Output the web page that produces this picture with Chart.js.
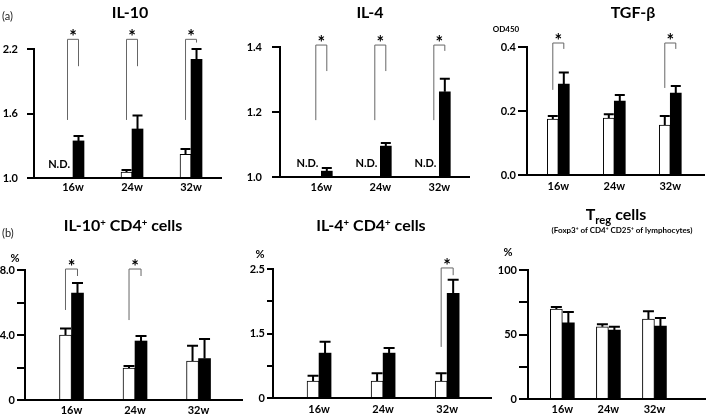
<!DOCTYPE html>
<html><head><meta charset="utf-8">
<script src="https://cdn.jsdelivr.net/npm/chart.js@4.4.1/dist/chart.umd.min.js"></script>
<style>
html,body{margin:0;padding:0;width:708px;height:417px;overflow:hidden;background:#fff;font-family:Lato,'Open Sans',sans-serif;}
.t{position:absolute;white-space:nowrap;font-weight:bold;color:#000;transform:translate(-50%,-50%);line-height:1;}
.l{position:absolute;white-space:nowrap;color:#222;line-height:1;transform:translateY(-50%);}
sup{font-size:0.6em;vertical-align:0.55em;line-height:0;}
sub{font-size:0.7em;vertical-align:-0.35em;line-height:0;}
</style></head><body>
<div class="l" style="left:2px;top:15px;font-size:11px">(a)</div>
<div class="t" style="left:130px;top:12px;font-size:16px">IL-10</div>
<div class="t" style="left:370px;top:12px;font-size:16px">IL-4</div>
<div class="t" style="left:633px;top:12px;font-size:16px">TGF-β</div>
<div class="t" style="left:506px;top:29px;font-size:8px">OD450</div>
<div class="l" style="left:2px;top:232px;font-size:11px">(b)</div>
<div class="t" style="left:123px;top:225px;font-size:16px">IL-10<sup>+</sup> CD4<sup>+</sup> cells</div>
<div class="t" style="left:371px;top:225px;font-size:16px">IL-4<sup>+</sup> CD4<sup>+</sup> cells</div>
<div class="t" style="left:616px;top:214px;font-size:16px">T<sub>reg</sub> cells</div>
<div class="t" style="left:622px;top:230px;font-size:8px">(Foxp3<sup>+</sup> of CD4<sup>+</sup> CD25<sup>+</sup> of lymphocytes)</div>
<div class="t" style="left:15px;top:257px;font-size:11px">%</div>
<div class="t" style="left:260px;top:253px;font-size:11px">%</div>
<div class="t" style="left:508px;top:251px;font-size:11px">%</div>
<script>
const weeks = ['16w', '24w', '32w'];

// (a) IL-10 (OD450); null = N.D.
const il10Control = [null, 1.055, 1.22];
const il10ControlErr = [null, 0.02, 0.05];
const il10Treated = [1.345, 1.456, 2.105];
const il10TreatedErr = [0.045, 0.125, 0.095];
const il10Ticks = [1.0, 1.6, 2.2];
const il10TickLabels = ['1.0', '1.6', '2.2'];
const il10SigTop = [2.29, 2.29, 2.29];
const il10SigLeft = [1.54, 1.54, 1.54];
const il10SigRight = [2.04, 2.04, 2.26];

// (a) IL-4
const il4Control = [null, null, null];
const il4ControlErr = [null, null, null];
const il4Treated = [1.018, 1.095, 1.262];
const il4TreatedErr = [0.01, 0.01, 0.04];
const il4Ticks = [1.0, 1.2, 1.4];
const il4TickLabels = ['1.0', '1.2', '1.4'];
const il4SigTop = [1.406, 1.406, 1.406];
const il4SigLeft = [1.175, 1.175, 1.175];
const il4SigRight = [1.326, 1.326, 1.388];

// (a) TGF-beta
const tgfControl = [0.175, 0.178, 0.156];
const tgfControlErr = [0.009, 0.012, 0.028];
const tgfTreated = [0.284, 0.231, 0.256];
const tgfTreatedErr = [0.036, 0.019, 0.022];
const tgfTicks = [0.0, 0.2, 0.4];
const tgfTickLabels = ['0.0', '0.2', '0.4'];
const tgfSigTop = [0.4125, null, 0.4125];
const tgfSigLeft = [0.266, null, 0.272];
const tgfSigRight = [0.394, null, 0.394];

// (b) IL-10+ CD4+ cells (%)
const il10cControl = [4.0, 1.97, 2.4];
const il10cControlErr = [0.4, 0.12, 0.94];
const il10cTreated = [6.58, 3.63, 2.55];
const il10cTreatedErr = [0.62, 0.31, 1.2];
const il10cTicks = [0, 2, 4, 6, 8];
const il10cTickLabels = ['0', '', '4.0', '', '8.0'];
const il10cSigTop = [8.06, 8.06, null];
const il10cSigLeft = [5.54, 4.92, null];
const il10cSigRight = [7.63, 7.63, null];

// (b) IL-4+ CD4+ cells (%)
const il4cControl = [0.33, 0.33, 0.33];
const il4cControlErr = [0.1, 0.15, 0.15];
const il4cTreated = [0.87, 0.87, 2.03];
const il4cTreatedErr = [0.22, 0.1, 0.26];
const il4cTicks = [0, 0.625, 1.25, 1.875, 2.5];
const il4cTickLabels = ['0', '', '1.5', '', '2.5'];
const il4cSigTop = [null, null, 2.52];
const il4cSigLeft = [null, null, 0.99];
const il4cSigRight = [null, null, 2.38];

// (b) Treg cells (%)
const tregControl = [69.8, 56, 62];
const tregControlErr = [1.5, 2, 6];
const tregTreated = [59, 53.5, 56.6];
const tregTreatedErr = [8.5, 2.5, 6.2];
const tregTicks = [0, 25, 50, 75, 100];
const tregTickLabels = ['0', '', '50', '', '100'];
const tregSigTop = [null, null, null];
const tregSigLeft = [null, null, null];
const tregSigRight = [null, null, null];

function overlay(p) {
  return {
    id: 'overlay',
    afterDatasetsDraw(chart) {
      const ctx = chart.ctx, ys = chart.scales.y;
      const m0 = chart.getDatasetMeta(0), m1 = chart.getDatasetMeta(1);
      ctx.save();
      // error bars (upper whisker)
      [[m0, p.ctrl, p.ctrlErr], [m1, p.trt, p.trtErr]].forEach(([m, vals, errs]) => {
        vals.forEach((v, i) => {
          if (v == null || errs[i] == null) return;
          const b = m.data[i];
          const y0 = ys.getPixelForValue(v), y1 = ys.getPixelForValue(v + errs[i]);
          const hw = b.width / 2 - 0.5;
          ctx.strokeStyle = '#000'; ctx.lineWidth = 2;
          ctx.beginPath();
          ctx.moveTo(b.x, y0); ctx.lineTo(b.x, y1);
          ctx.moveTo(b.x - hw, y1); ctx.lineTo(b.x + hw, y1);
          ctx.stroke();
        });
      });
      // N.D. labels
      p.ctrl.forEach((v, i) => {
        if (v != null) return;
        const b = m1.data[i];
        ctx.font = 'bold 11px Lato, sans-serif';
        ctx.textAlign = 'right'; ctx.textBaseline = 'middle'; ctx.fillStyle = '#000';
        ctx.fillText('N.D.', b.x - b.width / 2 - 3, ys.getPixelForValue(p.ticks[0]) - 14);
      });
      // significance brackets
      p.sigTop.forEach((tv, i) => {
        if (tv == null) return;
        const xl = m0.data[i].x, xr = m1.data[i].x;
        const yt = ys.getPixelForValue(tv);
        ctx.strokeStyle = '#666'; ctx.lineWidth = 1;
        ctx.beginPath();
        ctx.moveTo(xl, ys.getPixelForValue(p.sigLeft[i]));
        ctx.lineTo(xl, yt); ctx.lineTo(xr, yt);
        ctx.lineTo(xr, ys.getPixelForValue(p.sigRight[i]));
        ctx.stroke();
        ctx.font = 'bold 18px Lato, sans-serif';
        ctx.textAlign = 'center'; ctx.textBaseline = 'alphabetic'; ctx.fillStyle = '#000';
        ctx.fillText('*', (xl + xr) / 2, yt + 4);
      });
      ctx.restore();
    }
  };
}

function makeChart(p) {
  const c = document.createElement('canvas');
  c.width = p.box.w; c.height = p.box.h;
  c.style.cssText = `position:absolute;left:${p.box.l}px;top:${p.box.t}px;width:${p.box.w}px;height:${p.box.h}px;`;
  document.body.insertBefore(c, document.body.firstChild);
  const yMin = p.ticks[0], yMax = p.ticks[p.ticks.length - 1];
  new Chart(c, {
    type: 'bar',
    data: {
      datasets: [
        { data: p.ctrl.map((v, i) => ({ x: i, y: v })), backgroundColor: '#fff', borderColor: '#000', borderWidth: 1, base: yMin, barThickness: p.bw },
        { data: p.trt.map((v, i) => ({ x: i, y: v })), backgroundColor: '#000', borderWidth: 0, base: yMin, barThickness: p.bw }
      ]
    },
    options: {
      responsive: false, animation: false, events: [],
      layout: { padding: { top: p.padTop, left: 0, right: 0, bottom: 0 } },
      plugins: { legend: { display: false }, tooltip: { enabled: false } },
      scales: {
        x: {
          type: 'linear', min: p.xMin, max: p.xMax, offset: false,
          grid: { display: false, drawTicks: false, offset: false },
          border: { display: true, color: '#000', width: 2 },
          afterBuildTicks: s => { s.ticks = p.cats.map((c, i) => ({ value: i })); },
          ticks: { callback: v => p.cats[v], font: { family: 'Lato', size: 11, weight: 'bold' }, color: '#000', padding: p.xPad, maxRotation: 0, autoSkip: false },
          afterFit: s => { s.height = 24; }
        },
        y: {
          min: yMin, max: yMax,
          grid: { drawOnChartArea: false, drawTicks: true, tickLength: p.tickLen, color: '#000', lineWidth: 2 },
          border: { display: true, color: '#000', width: 2 },
          afterBuildTicks: s => { s.ticks = p.ticks.map(v => ({ value: v })); },
          ticks: { callback: (v, i) => p.tickLabels[i], padding: p.tickPad, font: { family: 'Lato', size: 11, weight: 'bold' }, color: '#000', autoSkip: false },
          afterFit: s => { s.width = 40; }
        }
      }
    },
    plugins: [overlay(p)]
  });
}

const panels = [
  { cats: weeks, ctrl: il10Control, ctrlErr: il10ControlErr, trt: il10Treated, trtErr: il10TreatedErr, ticks: il10Ticks, tickLabels: il10TickLabels,
    sigTop: il10SigTop, sigLeft: il10SigLeft, sigRight: il10SigRight,
    box: { l: -6, t: 0, w: 228, h: 202 }, padTop: 49, xMin: -0.661, xMax: 2.525, bw: 11, tickLen: 7, tickPad: 9, xPad: 3 },
  { cats: weeks, ctrl: il4Control, ctrlErr: il4ControlErr, trt: il4Treated, trtErr: il4TreatedErr, ticks: il4Ticks, tickLabels: il4TickLabels,
    sigTop: il4SigTop, sigLeft: il4SigLeft, sigRight: il4SigRight,
    box: { l: 240, t: 0, w: 230, h: 201 }, padTop: 47, xMin: -0.70, xMax: 2.52, bw: 11, tickLen: 8, tickPad: 10, xPad: 4 },
  { cats: weeks, ctrl: tgfControl, ctrlErr: tgfControlErr, trt: tgfTreated, trtErr: tgfTreatedErr, ticks: tgfTicks, tickLabels: tgfTickLabels,
    sigTop: tgfSigTop, sigLeft: tgfSigLeft, sigRight: tgfSigRight,
    box: { l: 487, t: 0, w: 218, h: 199 }, padTop: 47, xMin: -0.559, xMax: 2.62, bw: 11, tickLen: 9, tickPad: 2, xPad: 5 },
  { cats: weeks, ctrl: il10cControl, ctrlErr: il10cControlErr, trt: il10cTreated, trtErr: il10cTreatedErr, ticks: il10cTicks, tickLabels: il10cTickLabels,
    sigTop: il10cSigTop, sigLeft: il10cSigLeft, sigRight: il10cSigRight,
    box: { l: -15, t: 200, w: 258, h: 224 }, padTop: 70, xMin: -0.732, xMax: 2.70, bw: 12, tickLen: 8, tickPad: 2, xPad: 4 },
  { cats: weeks, ctrl: il4cControl, ctrlErr: il4cControlErr, trt: il4cTreated, trtErr: il4cTreatedErr, ticks: il4cTicks, tickLabels: il4cTickLabels,
    sigTop: il4cSigTop, sigLeft: il4cSigLeft, sigRight: il4cSigRight,
    box: { l: 233, t: 200, w: 259, h: 222 }, padTop: 69, xMin: -0.719, xMax: 2.70, bw: 12, tickLen: 6, tickPad: 2, xPad: 5 },
  { cats: weeks, ctrl: tregControl, ctrlErr: tregControlErr, trt: tregTreated, trtErr: tregTreatedErr, ticks: tregTicks, tickLabels: tregTickLabels,
    sigTop: tregSigTop, sigLeft: tregSigLeft, sigRight: tregSigRight,
    box: { l: 488, t: 200, w: 218, h: 223 }, padTop: 70, xMin: -0.746, xMax: 3.12, bw: 12, tickLen: 9, tickPad: 2, xPad: 4 }
];
panels.forEach(makeChart);
</script>
</body></html>
